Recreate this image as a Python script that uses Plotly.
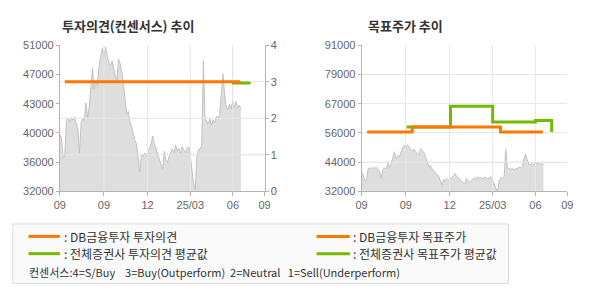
import plotly.graph_objects as go

# ---------------- data ----------------
price = [
    39500, 38800, 36300, 36600, 41200, 41500, 41000, 41600, 41300, 41700,
    40800, 40200, 37000, 40900, 41400, 41200, 43500, 41600, 43000, 46000,
    48000, 45300, 46500, 45800, 48200, 49500, 50600, 49300, 50800, 49600,
    48800, 48400, 49000, 48000, 47000, 46500, 49200, 48600, 47600, 46000,
    43500, 42000, 42400, 41000, 40500, 39400, 38600, 38200, 36200, 34500,
    36800, 36500, 37000, 36600, 37300, 37600, 38300, 39200, 38000, 37600,
    36800, 36200, 35500, 34900, 37200, 36000, 35800, 36600, 37000, 37500,
    37000, 38000, 37200, 37600, 36900, 37800, 37400, 37000, 37600, 37800,
    36600, 34600, 33000, 32200, 36600, 37400, 37500, 38000, 49000, 41500,
    41200, 40800, 41400, 40600, 41300, 40900, 41800, 41500, 42000, 44500,
    47300, 44800, 43000, 42600, 43300, 42700, 43800, 42900, 43700, 42800,
    43200, 42800,
]
price_end = 88.4  # last trading day on the time axis (0..100)

# consensus opinion (left chart, secondary axis 0-4)
db_opinion_x = [2.4, 88.1]
db_opinion = [3, 3]
avg_opinion_x = [84.1, 92.4, 92.4]
avg_opinion = [2.97, 2.97, 3.0]

# target prices (right chart)
db_target_x = [2.7, 24.6, 67.5, 88.1]
db_target = [56000, 58000, 56000, 56000]
avg_target_x = [21.9, 43.2, 63.7, 84.5, 92.4, 92.4]
avg_target = [58000, 66400, 60000, 60600, 60600, 56000]

x_tickvals = [0, 21.5, 42.8, 63.7, 84.5, 100]
x_ticktext = ["09", "09", "12", "25/03", "06", "09"]

left_tickvals = [32000, 35800, 39600, 43400, 47200, 51000]
left_ticktext = ["32000", "36000", "40000", "43000", "47000", "51000"]
op_tickvals = [0, 1, 2, 3, 4]

right_tickvals = [32000, 43800, 55600, 67400, 79200, 91000]
right_ticktext = ["32000", "44000", "56000", "67000", "79000", "91000"]

# ---------------- styles ----------------
ORANGE = "#FF7700"
GREEN = "#77B800"
FILL = "#dedede"
PLINE = "#c2c2c2"
GRID = "#e8e8e8"
AXL = "#b4b4b4"
TICKF = dict(family="Liberation Sans, Arial, sans-serif", size=11, color="#666666")
KFONT = "Noto Sans CJK KR, sans-serif"

px = [i * price_end / (len(price) - 1) for i in range(len(price))]

fig = go.Figure()

# left chart
fig.add_trace(go.Scatter(x=px, y=price, mode="lines", fill="tozeroy",
                         fillcolor=FILL, line=dict(color=PLINE, width=1),
                         xaxis="x", yaxis="y", hoverinfo="skip"))
fig.add_trace(go.Scatter(x=avg_opinion_x, y=avg_opinion, mode="lines",
                         line=dict(color=GREEN, width=3), xaxis="x", yaxis="y2"))
fig.add_trace(go.Scatter(x=db_opinion_x, y=db_opinion, mode="lines",
                         line=dict(color=ORANGE, width=3), xaxis="x", yaxis="y2"))

# right chart
fig.add_trace(go.Scatter(x=px, y=price, mode="lines", fill="tozeroy",
                         fillcolor=FILL, line=dict(color=PLINE, width=1),
                         xaxis="x2", yaxis="y3", hoverinfo="skip"))
fig.add_trace(go.Scatter(x=avg_target_x, y=avg_target, mode="lines",
                         line=dict(color=GREEN, width=3, shape="hv"),
                         xaxis="x2", yaxis="y3"))
fig.add_trace(go.Scatter(x=db_target_x, y=db_target, mode="lines",
                         line=dict(color=ORANGE, width=3, shape="hv"),
                         xaxis="x2", yaxis="y3"))

LD = [55 / 590, 264 / 590]
RD = [363 / 590, 573 / 590]
YD = [1 - 193 / 300, 1 - 41 / 300]

xcommon = dict(range=[0, 100], tickmode="array", tickvals=x_tickvals,
               ticktext=x_ticktext, showgrid=True, gridcolor=GRID, gridwidth=1,
               showline=True, linecolor=AXL, linewidth=1, ticks="outside",
               ticklen=4, tickcolor=AXL, tickfont=TICKF, zeroline=False,
               fixedrange=True)

fig.update_layout(
    width=590, height=300,
    margin=dict(l=0, r=0, t=0, b=0),
    paper_bgcolor="white", plot_bgcolor="white",
    showlegend=False,
    xaxis=dict(domain=LD, anchor="y", **xcommon),
    yaxis=dict(domain=YD, anchor="x", range=[32000, 51000], tickmode="array",
               tickvals=left_tickvals, ticktext=left_ticktext, showgrid=False,
               showline=True, linecolor=AXL, ticks="outside", ticklen=3,
               tickcolor=AXL, tickfont=TICKF, zeroline=False),
    yaxis2=dict(overlaying="y", side="right", anchor="x", range=[0, 4],
                tickmode="array", tickvals=op_tickvals, showgrid=True,
                gridcolor=GRID, showline=True, linecolor=AXL, ticks="outside",
                ticklen=3, tickcolor=AXL, tickfont=TICKF, zeroline=False),
    xaxis2=dict(domain=RD, anchor="y3", **xcommon),
    yaxis3=dict(domain=YD, anchor="x2", range=[32000, 91000], tickmode="array",
                tickvals=right_tickvals, ticktext=right_ticktext, showgrid=True,
                gridcolor=GRID, showline=True, linecolor=AXL, ticks="outside",
                ticklen=3, tickcolor=AXL, tickfont=TICKF, zeroline=False),
)

shapes = []
# grid lines drawn over the price area (as in the reference)
for xv in x_tickvals[1:-1]:
    shapes.append(dict(type="line", xref="x", yref="y2", x0=xv, x1=xv, y0=0, y1=2.88,
                       line=dict(color=GRID, width=1), layer="above"))
    shapes.append(dict(type="line", xref="x", yref="y2", x0=xv, x1=xv, y0=3.12, y1=4,
                       line=dict(color=GRID, width=1), layer="above"))
    shapes.append(dict(type="line", xref="x2", yref="y3", x0=xv, x1=xv, y0=32000,
                       y1=max(price) + 1000, line=dict(color=GRID, width=1), layer="above"))
for yv in op_tickvals[1:3]:
    shapes.append(dict(type="line", xref="x", yref="y2", x0=0, x1=100, y0=yv, y1=yv,
                       line=dict(color=GRID, width=1), layer="above"))
shapes.append(dict(type="line", xref="x2", yref="y3", x0=0, x1=100,
                   y0=right_tickvals[1], y1=right_tickvals[1],
                   line=dict(color=GRID, width=1), layer="above"))

# legend box
shapes.append(dict(type="rect", xref="paper", yref="paper",
                   x0=7 / 590, x1=513 / 590, y0=1 - 289 / 300, y1=1 - 227 / 300,
                   line=dict(color="#dddddd", width=1), fillcolor="#fafafa", layer="below"))
for (xa, xb, yy, col) in [(23, 55, 240, ORANGE), (23, 55, 258, GREEN),
                          (317, 351, 240, ORANGE), (317, 351, 258, GREEN)]:
    shapes.append(dict(type="line", xref="paper", yref="paper",
                       x0=xa / 590, x1=xb / 590, y0=1 - yy / 300, y1=1 - yy / 300,
                       line=dict(color=col, width=3)))
fig.update_layout(shapes=shapes)

ann = []
ann.append(dict(text="<b>투자의견(컨센서스) 추이</b>", x=55 / 590, y=1 - 20 / 300,
                xref="paper", yref="paper", xanchor="left", yanchor="middle",
                showarrow=False, font=dict(family=KFONT, size=13, color="#333333")))
ann.append(dict(text="<b>목표주가 추이</b>", x=367 / 590, y=1 - 20 / 300,
                xref="paper", yref="paper", xanchor="left", yanchor="middle",
                showarrow=False, font=dict(family=KFONT, size=13, color="#333333")))
leg = [(": DB금융투자 투자의견", 57, 240), (": 전체증권사 투자의견 평균값", 57, 258),
       (": DB금융투자 목표주가", 352, 240), (": 전체증권사 목표주가 평균값", 352, 258)]
for t, xx, yy in leg:
    ann.append(dict(text=t, x=xx / 590, y=1 - yy / 300, xref="paper", yref="paper",
                    xanchor="left", yanchor="middle", showarrow=False,
                    font=dict(family=KFONT, size=12, color="#333333")))
ann.append(dict(text="컨센서스:4=S/Buy\u00a0\u00a0\u00a0\u00a03=Buy(Outperform)\u00a0\u00a02=Neutral\u00a0\u00a0\u00a01=Sell(Underperform)",
                x=21 / 590, y=1 - 277 / 300, xref="paper", yref="paper",
                xanchor="left", yanchor="middle", showarrow=False,
                font=dict(family=KFONT, size=11, color="#333333")))
fig.update_layout(annotations=ann)

fig.write_html("out.html")
